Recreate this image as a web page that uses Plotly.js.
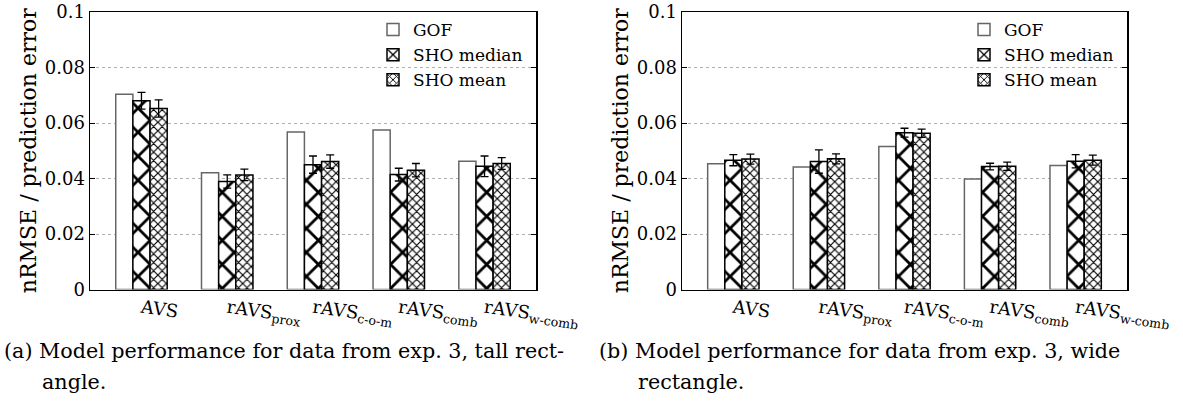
<!DOCTYPE html>
<html>
<head>
<meta charset="utf-8">
<script src="https://cdn.plot.ly/plotly-3.0.1.min.js"></script>
<style>
html,body{margin:0;padding:0;background:#fff;}
#chart{width:1183px;height:406px;}
</style>
</head>
<body>
<div id="chart"></div>
<script>
// ---- data ----
const categories = ['AVS', 'rAVS<sub>prox</sub>', 'rAVS<sub>c-o-m</sub>', 'rAVS<sub>comb</sub>', 'rAVS<sub>w-comb</sub>'];
const seriesNames = ['GOF', 'SHO median', 'SHO mean'];
const yTickVals = [0, 0.02, 0.04, 0.06, 0.08, 0.1];
const yTickText = ['0', '0.02', '0.04', '0.06', '0.08', '0.1'];

// (a) tall rectangle
const gofA = [0.0704, 0.0421, 0.0568, 0.0575, 0.0462];
const medA = [0.0680, 0.0389, 0.0450, 0.0414, 0.0444];
const medErrA = [0.0030, 0.0024, 0.0031, 0.0023, 0.0037];
const meanA = [0.0652, 0.0413, 0.0461, 0.0430, 0.0454];
const meanErrA = [0.0031, 0.0021, 0.0024, 0.0024, 0.0021];

// (b) wide rectangle
const gofB = [0.0453, 0.0441, 0.0515, 0.0398, 0.0447];
const medB = [0.0466, 0.0461, 0.0565, 0.0443, 0.0462];
const medErrB = [0.0020, 0.0042, 0.0016, 0.0012, 0.0024];
const meanB = [0.0470, 0.0471, 0.0563, 0.0444, 0.0466];
const meanErrB = [0.0018, 0.0018, 0.0015, 0.0015, 0.0018];

const captionA1 = '(a) Model performance for data from exp. 3, tall rect-';
const captionA2 = 'angle.';
const captionB1 = '(b) Model performance for data from exp. 3, wide';
const captionB2 = 'rectangle.';
const yTitle = 'nRMSE / prediction error';

// ---- styling ----
const FONT = '"DejaVu Serif", serif';
const W = 1183, H = 406;
const px = v => v / W;
const py = v => (H - v) / H;

function makeTraces(gof, med, medErr, mean, meanErr, xa, ya, lg) {
  const err = arr => ({type: 'data', array: arr, color: 'black', thickness: 1.3, width: 4, visible: true});
  return [
    {type: 'bar', name: seriesNames[0], x: categories, y: gof, xaxis: xa, yaxis: ya, legend: lg,
     marker: {color: 'white', line: {color: '#666', width: 1.5}}},
    {type: 'bar', name: seriesNames[1], x: categories, y: med, xaxis: xa, yaxis: ya, legend: lg,
     error_y: err(medErr),
     marker: {color: 'white', line: {color: 'black', width: 1.5},
              pattern: {shape: 'x', size: 17, solidity: 0.3, fgcolor: 'black', bgcolor: 'white'}}},
    {type: 'bar', name: seriesNames[2], x: categories, y: mean, xaxis: xa, yaxis: ya, legend: lg,
     error_y: err(meanErr),
     marker: {color: 'white', line: {color: 'black', width: 1.5},
              pattern: {shape: 'x', size: 6, solidity: 0.35, fgcolor: 'black', bgcolor: 'white'}}}
  ];
}

const data = [
  ...makeTraces(gofA, medA, medErrA, meanA, meanErrA, 'x', 'y', 'legend'),
  ...makeTraces(gofB, medB, medErrB, meanB, meanErrB, 'x2', 'y2', 'legend2')
];

function xAxis(domain, anchor) {
  return {domain: domain, anchor: anchor, type: 'category', range: [-0.6, 4.6],
    showline: true, mirror: true, linecolor: 'black', linewidth: 1.5,
    ticks: '', showgrid: false, zeroline: false, tickangle: 8,
    tickfont: {family: FONT, size: 18, color: 'black'}, fixedrange: true};
}
function yAxis(domain, anchor) {
  return {domain: domain, anchor: anchor, range: [0, 0.1],
    tickvals: yTickVals, ticktext: yTickText,
    showline: true, mirror: 'ticks', linecolor: 'black', linewidth: 1.5,
    ticks: 'inside', ticklen: 5, tickcolor: 'black', tickwidth: 1,
    showgrid: true, gridcolor: '#b0b0b0', griddash: 'dot', gridwidth: 1, zeroline: false,
    tickfont: {family: FONT, size: 18, color: 'black'},
    title: {text: yTitle, font: {family: FONT, size: 22, color: 'black'}},
    fixedrange: true};
}

function legendAt(xr) {
  return {x: px(xr), xanchor: 'right', y: py(12), yanchor: 'top',
    bgcolor: 'rgba(0,0,0,0)', borderwidth: 0, tracegroupgap: 0,
    font: {family: FONT, size: 17, color: 'black'}, itemwidth: 30, traceorder: 'normal'};
}

const capFont = {family: FONT, size: 20.7, color: 'black'};
const layout = {
  width: W, height: H,
  margin: {l: 0, r: 0, t: 0, b: 0},
  paper_bgcolor: 'white', plot_bgcolor: 'white',
  font: {family: FONT, color: 'black'},
  barmode: 'group', bargap: 0.4, bargroupgap: 0,
  showlegend: true,
  xaxis: xAxis([px(90), px(536)], 'y'),
  yaxis: yAxis([py(289.5), py(12)], 'x'),
  xaxis2: xAxis([px(682), px(1127)], 'y2'),
  yaxis2: yAxis([py(289.5), py(12)], 'x2'),
  legend: legendAt(528),
  legend2: legendAt(1119),
  annotations: [
    {text: captionA1, xref: 'paper', yref: 'paper', x: px(2), y: py(351), xanchor: 'left', yanchor: 'middle', showarrow: false, font: capFont},
    {text: captionA2, xref: 'paper', yref: 'paper', x: px(40), y: py(382), xanchor: 'left', yanchor: 'middle', showarrow: false, font: capFont},
    {text: captionB1, xref: 'paper', yref: 'paper', x: px(597), y: py(351), xanchor: 'left', yanchor: 'middle', showarrow: false, font: capFont},
    {text: captionB2, xref: 'paper', yref: 'paper', x: px(636), y: py(382), xanchor: 'left', yanchor: 'middle', showarrow: false, font: capFont}
  ]
};

Plotly.newPlot('chart', data, layout, {displayModeBar: false, staticPlot: true});
</script>
</body>
</html>
